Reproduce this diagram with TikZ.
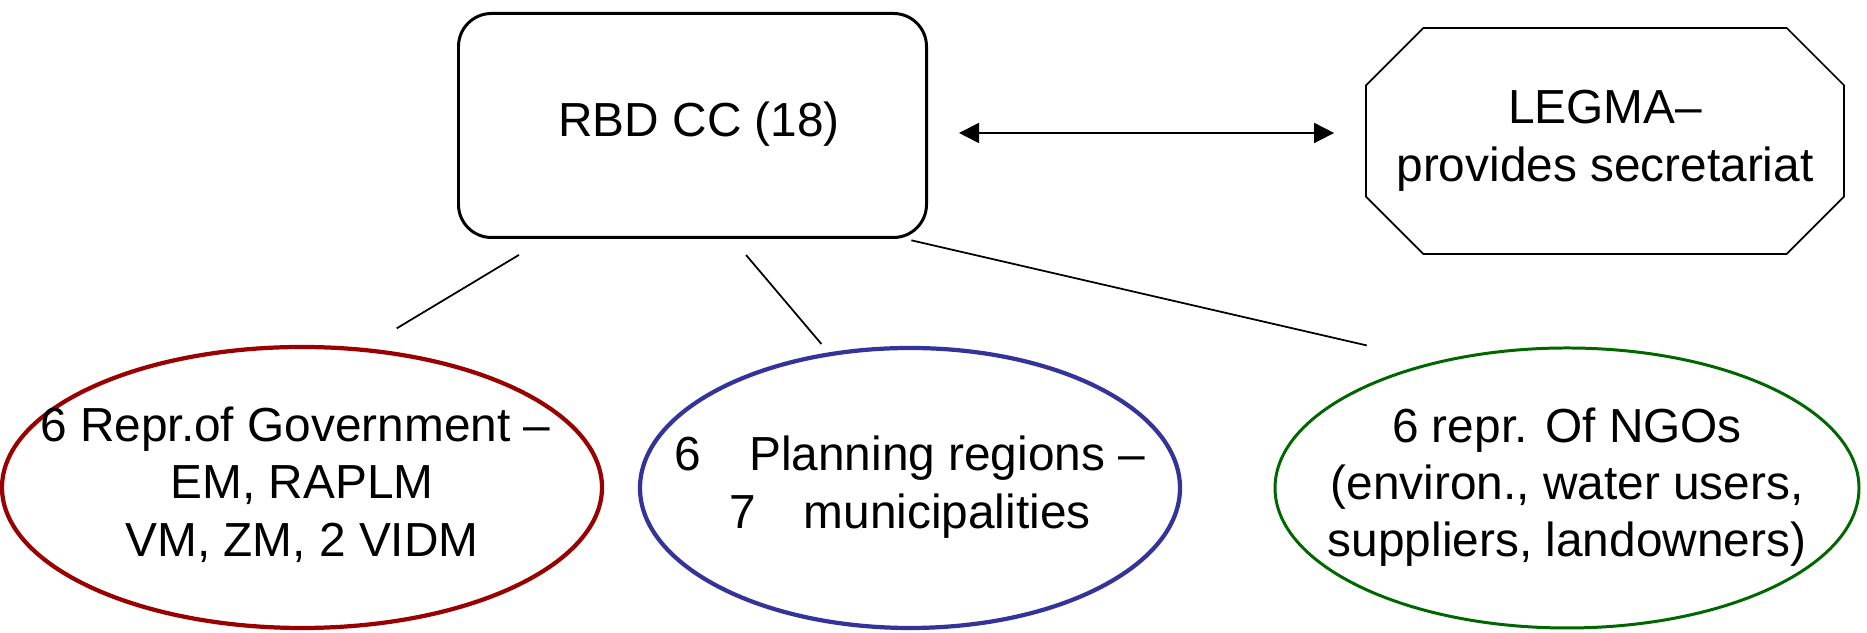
\documentclass[tikz,border=0pt]{standalone}
\usepackage{fontspec}
\setmainfont{Liberation Sans}
\usepackage{xcolor}
\usetikzlibrary{shapes.geometric,shapes.misc,arrows.meta}
\definecolor{govred}{RGB}{153,0,0}
\definecolor{planblue}{RGB}{51,51,153}
\definecolor{ngogreen}{RGB}{0,102,0}
\newcommand{\boxtext}[2][0.08cm]{\raisebox{-#1}{\makebox[0pt]{\begin{tabular}{@{}c@{}}#2\end{tabular}}}}

\begin{document}
\begin{tikzpicture}[font=\fontsize{13.6}{16.3}\selectfont,
  council/.style={draw,line width=0.85pt,rounded corners=0.33cm,minimum width=4.68cm,minimum height=2.24cm},
  secretariat/.style={draw,line width=0.5pt,chamfered rectangle,chamfered rectangle xsep=0.66cm,inner sep=0pt,minimum width=4.78cm,minimum height=2.26cm},
  member/.style={draw,ellipse,inner sep=0pt,minimum height=2.80cm},
  link/.style={line width=0.5pt},
  biarrow/.style={line width=0.5pt,{Triangle[length=0.2cm,width=0.2cm]}-{Triangle[length=0.2cm,width=0.2cm]},shorten <=0.31cm,shorten >=0.31cm}]
  \useasboundingbox (0,0) rectangle (18.67,6.33);
  \node[council] (rbd) at (6.925,5.075) {\boxtext[0.05cm]{\hspace*{0.28em}RBD CC (18)}};
  \node[secretariat] (legma) at (16.05,4.92) {\boxtext[0.05cm]{LEGMA–\\provides secretariat}};
  % members
  \node[member,draw=govred,line width=1.2pt,minimum width=6.0cm,minimum height=2.81cm] (gov) at (3.02,1.455)
    {\boxtext{6 Repr.of Government –\hspace*{0.278em}\\EM, RAPLM\\VM, ZM, 2 VIDM}};
  \node[member,draw=planblue,line width=1.2pt,minimum width=5.40cm] (plan) at (9.10,1.45)
    {\boxtext{6\quad Planning regions –\\7\quad municipalities}};
  \node[member,draw=ngogreen,line width=0.85pt,minimum width=5.84cm] (ngo) at (15.67,1.45)
    {\boxtext{6 repr. Of NGOs\\(environ., water users,\\suppliers, landowners)}};
  % links
  \draw[biarrow] ([yshift=-0.075cm]rbd.east) -- ([yshift=-0.075cm]rbd.east -| legma.west);
  \draw[link,shorten <=0.31cm,shorten >=0.38cm] ([xshift=-1.47cm]rbd.south) -- (gov.66);
  \draw[link,shorten <=0.21cm,shorten >=0.11cm] ([xshift=0.40cm]rbd.south) -- (plan.121);
  \draw[link,shorten <=0.06cm,shorten >=0.71cm] ([xshift=2.13cm]rbd.south) -- (ngo.136);
\end{tikzpicture}
\end{document}
